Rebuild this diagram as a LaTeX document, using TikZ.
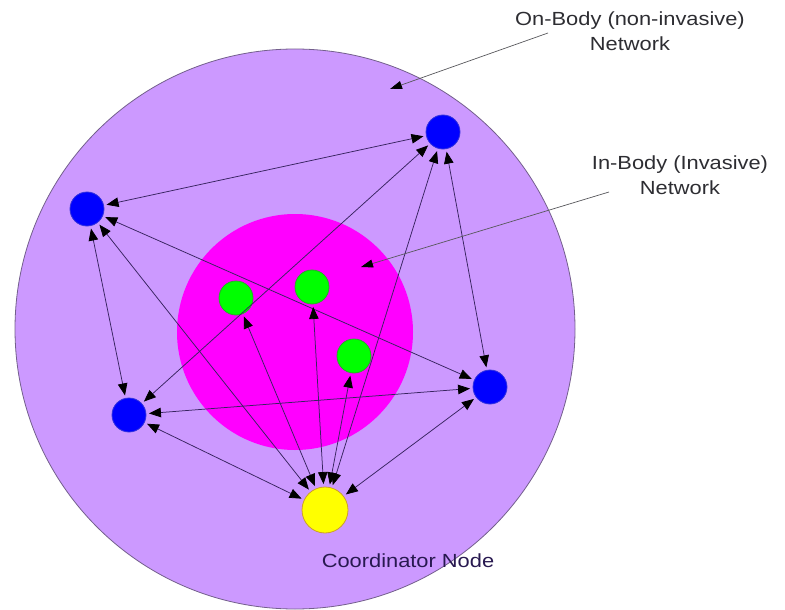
\documentclass[tikz,border=0pt]{standalone}
\usepackage{fontspec}
\setmainfont{Liberation Sans}
\newfontfamily\lblfont[FakeStretch=1.15]{Liberation Sans}
\usetikzlibrary{arrows.meta}
\definecolor{bodyfill}{RGB}{204,153,255}
\definecolor{bodyedge}{RGB}{115,95,140}
\definecolor{innerfill}{RGB}{255,0,255}
\definecolor{linkc}{RGB}{55,35,95}
\definecolor{txtc}{RGB}{45,45,50}
\definecolor{coordtxt}{RGB}{40,25,80}
\definecolor{bluefill}{RGB}{0,0,255}
\definecolor{blueedge}{RGB}{50,50,220}
\definecolor{greenfill}{RGB}{0,255,0}
\definecolor{greenedge}{RGB}{40,170,40}
\definecolor{yelfill}{RGB}{255,255,0}
\definecolor{yeledge}{RGB}{205,160,40}
\begin{document}
\begin{tikzpicture}[x=1pt,y=-1pt,
  dev/.style={circle,inner sep=0pt,minimum size=34pt,outer sep=3pt,line width=0.8pt},
  onbody/.style={dev,fill=bluefill,draw=blueedge},
  inbody/.style={dev,fill=greenfill,draw=greenedge},
  coord/.style={dev,minimum size=46pt,fill=yelfill,draw=yeledge},
  link/.style={draw=linkc,line width=0.75pt,
    {Triangle[length=12pt,width=9.5pt,color=black]}-{Triangle[length=12pt,width=9.5pt,color=black]}},
  pointer/.style={draw=txtc!80,line width=0.7pt,-{Triangle[length=12pt,width=8pt,color=black]}},
  lbl/.style={font=\lblfont\fontsize{19}{25}\selectfont,text=txtc,align=center,inner sep=0pt}
]
\useasboundingbox (0,0) rectangle (785,610);
% regions
\node[circle,inner sep=0pt,minimum size=560pt,fill=bodyfill,draw=bodyedge,line width=0.8pt] (body) at (295,329) {};
\node[circle,inner sep=0pt,minimum size=236pt,fill=innerfill] (inner) at (295,332) {};
% devices
\node[onbody] (b1) at (443,132) {};
\node[onbody] (b2) at (87,209) {};
\node[onbody] (b3) at (129,415) {};
\node[onbody] (b4) at (490,387) {};
\node[inbody] (g1) at (236,298) {};
\node[inbody] (g2) at (312,287) {};
\node[inbody] (g3) at (354,356) {};
\node[coord] (y) at (325,510) {};
% links
\draw[link] (b2) -- (b1);
\draw[link] (b1) -- (b3);
\draw[link] (b1) -- (b4);
\draw[link] (b1) -- (y);
\draw[link] (b2) -- (b3);
\draw[link] (b2) -- (b4);
\draw[link] (b2) -- (y);
\draw[link] (b3) -- (b4);
\draw[link] (b3) -- (y);
\draw[link] (b4) -- (y);
\draw[link] (y) -- (g1);
\draw[link] (y) -- (g2);
\draw[link] (y) -- (g3);
% labels
\node[lbl,anchor=north] (onlabel) at (630,12) {On-Body (non-invasive)\\Network};
\node[lbl,anchor=north] (inlabel) at (680,156) {In-Body (Invasive)\\Network};
\node[lbl,text=coordtxt,anchor=base] (coordlabel) at (408,567) {Coordinator Node};
\coordinate (onstart) at (548,33);
\coordinate (onend) at (390,89);
\coordinate (instart) at (609,192);
\coordinate (inend) at (361,267);
\draw[pointer] (onstart) -- (onend);
\draw[pointer] (instart) -- (inend);
\end{tikzpicture}
\end{document}
